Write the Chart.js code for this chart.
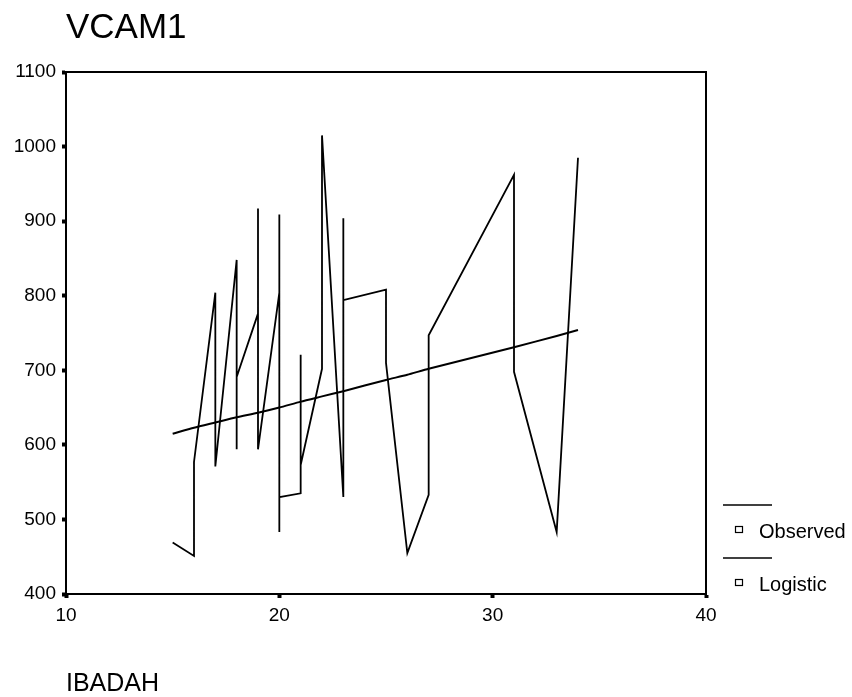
<!DOCTYPE html>
<html>
<head>
<meta charset="utf-8">
<script src="https://cdn.jsdelivr.net/npm/chart.js@4/dist/chart.umd.min.js"></script>
<style>
  html, body { margin: 0; padding: 0; background: #fff; }
  #wrap { position: relative; width: 852px; height: 697px; }
</style>
</head>
<body>
<div id="wrap"><canvas id="chart" width="852" height="697"></canvas></div>
<script>
// ── Data ─────────────────────────────────────────────────────────
const chartTitle  = 'VCAM1';
const xAxisTitle  = 'IBADAH';

// Observed: sorted by IBADAH, joined in order
const obsX = [15, 16, 16, 17, 17, 18, 18, 18, 19, 19, 19, 20, 20, 20, 20,
              21, 21, 21, 22, 22, 22, 23, 23, 23, 25, 25, 26, 27, 27, 27,
              31, 31, 33, 34];
const obsY = [469, 451, 577, 804, 571, 848, 594, 691, 776, 917, 594, 804, 909, 483, 530,
              535, 721, 573, 702, 837, 1015, 530, 904, 794, 808, 710, 455, 533, 613, 747,
              962, 698, 483, 985];

// Logistic fit
const fitX = [15, 16, 17, 18, 19, 20, 21, 22, 23, 25, 26, 27, 31, 33, 34];
const fitY = [615, 623, 630, 637, 643, 650, 658, 665, 672, 687, 694, 702, 731, 746, 754];

const xTicks = [10, 20, 30, 40];
const yTicks = [400, 500, 600, 700, 800, 900, 1000, 1100];
const legendLabels = ['Observed', 'Logistic'];

const fontFamily = '"Liberation Sans", Arial, sans-serif';
const ink = '#000';

// ── Plot frame, title and SPSS-style legend ─────────────────────
const decorations = {
    id: 'decorations',
    afterDraw(chart) {
        const { ctx, chartArea: a } = chart;
        ctx.save();
        ctx.strokeStyle = ink;
        ctx.lineWidth = 2;
        ctx.strokeRect(a.left, a.top, a.right - a.left, a.bottom - a.top);

        ctx.fillStyle = ink;
        ctx.font = '35px ' + fontFamily;
        ctx.textBaseline = 'alphabetic';
        ctx.fillText(chartTitle, 66, 38);

        ctx.font = '20px ' + fontFamily;
        legendLabels.forEach((label, i) => {
            const y0 = 505 + i * 53;
            ctx.lineWidth = 1.5;
            ctx.beginPath();
            ctx.moveTo(723, y0);
            ctx.lineTo(772, y0);
            ctx.stroke();
            ctx.lineWidth = 1.2;
            ctx.strokeRect(735.5, y0 + 21.5, 7, 6);
            ctx.fillText(label, 759, y0 + 33);
        });
        ctx.restore();
    }
};

const tickFont = { family: fontFamily, size: 19 };

new Chart(document.getElementById('chart'), {
    type: 'scatter',
    data: {
        datasets: [
            {
                label: legendLabels[0],
                data: obsX.map((x, i) => ({ x, y: obsY[i] })),
                showLine: true,
                borderColor: ink,
                borderWidth: 1.8,
                pointRadius: 0,
                tension: 0,
            },
            {
                label: legendLabels[1],
                data: fitX.map((x, i) => ({ x, y: fitY[i] })),
                showLine: true,
                borderColor: ink,
                borderWidth: 2,
                pointRadius: 0,
                tension: 0.2,
            }
        ]
    },
    options: {
        responsive: false,
        devicePixelRatio: 1,
        animation: false,
        layout: { padding: { top: 72, right: 146, left: 0, bottom: 0 } },
        plugins: {
            legend: { display: false },
            tooltip: { enabled: false },
        },
        scales: {
            x: {
                type: 'linear', min: xTicks[0], max: xTicks[xTicks.length - 1],
                afterFit: s => { s.height = 103; },
                afterBuildTicks: s => { s.ticks = xTicks.map(v => ({ value: v })); },
                ticks: { color: ink, font: tickFont, padding: 6, maxRotation: 0, callback: v => String(v) },
                grid: { drawOnChartArea: false, color: ink, tickLength: 4, tickWidth: 4 },
                border: { color: ink, width: 2 },
                title: {
                    display: true, text: xAxisTitle, align: 'start', color: ink,
                    font: { family: fontFamily, size: 25, lineHeight: 1 },
                    padding: { top: 0, bottom: 0 }
                }
            },
            y: {
                type: 'linear', min: yTicks[0], max: yTicks[yTicks.length - 1],
                afterFit: s => { s.width = 66; },
                afterBuildTicks: s => { s.ticks = yTicks.map(v => ({ value: v })); },
                ticks: { color: ink, font: tickFont, padding: 6, callback: v => String(v) },
                grid: { drawOnChartArea: false, color: ink, tickLength: 4, tickWidth: 4 },
                border: { color: ink, width: 2 }
            }
        }
    },
    plugins: [decorations]
});
</script>
</body>
</html>
